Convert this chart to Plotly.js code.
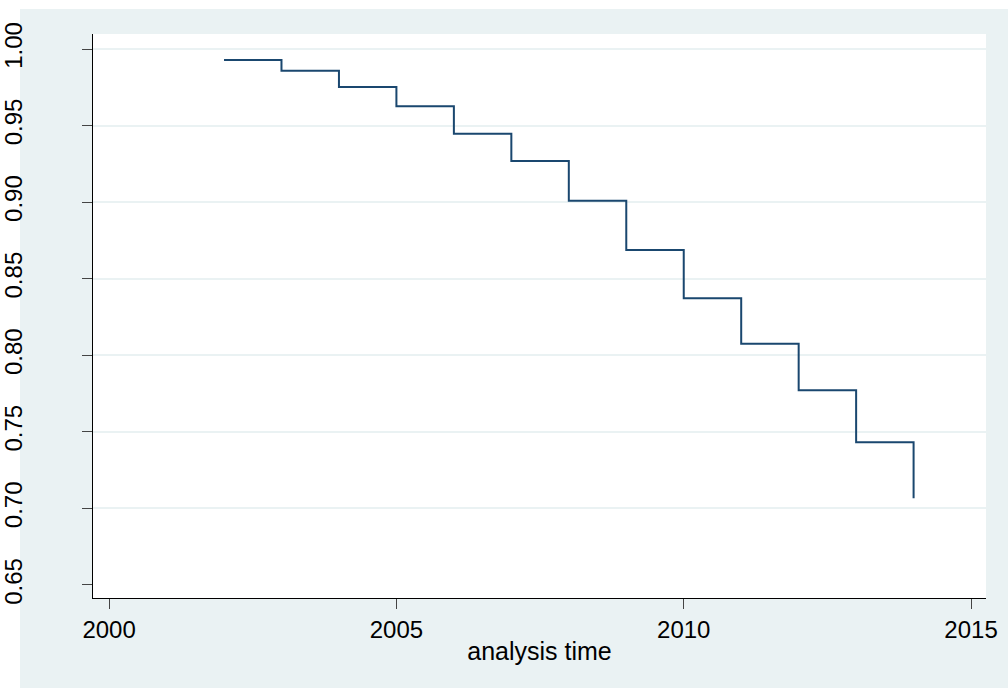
<!DOCTYPE html>
<html>
<head>
<meta charset="utf-8">
<script src="https://cdn.plot.ly/plotly-3.0.1.min.js"></script>
<style>
  html, body { margin: 0; padding: 0; background: #ffffff; }
  #chart { width: 1008px; height: 688px; }
</style>
</head>
<body>
<div id="chart"></div>
<script>
// Kaplan-Meier survival estimate (step function)
const years = [2002, 2003, 2004, 2005, 2006, 2007, 2008, 2009, 2010, 2011, 2012, 2013, 2014];
const survival = [0.9928, 0.9858, 0.9752, 0.9626, 0.9447, 0.9269, 0.9009, 0.8687, 0.8372, 0.8076, 0.7771, 0.7432, 0.7066];

const xTickVals = [2000, 2005, 2010, 2015];
const yTickVals = [0.65, 0.70, 0.75, 0.80, 0.85, 0.90, 0.95, 1.00];
const yTickText = ['0.65', '0.70', '0.75', '0.80', '0.85', '0.90', '0.95', '1.00'];
const yGridVals = [0.70, 0.75, 0.80, 0.85, 0.90, 0.95, 1.00];

const xRange = [1999.72, 2015.26];
const yRange = [0.6415, 1.0098];

const bgColor = '#eaf2f3';
const lineColor = '#1a476f';
const fontFamily = 'Arial, "Liberation Sans", sans-serif';

const traces = [
  {
    x: years,
    y: survival,
    type: 'scatter',
    mode: 'lines',
    line: { shape: 'hv', color: lineColor, width: 2 },
    showlegend: false,
    hoverinfo: 'x+y'
  },
  {
    x: [],
    y: [],
    type: 'scatter',
    mode: 'lines',
    yaxis: 'y2',
    showlegend: false,
    hoverinfo: 'skip'
  }
];

const layout = {
  width: 1008,
  height: 688,
  paper_bgcolor: bgColor,
  plot_bgcolor: '#ffffff',
  margin: { l: 93, r: 22, t: 34, b: 90, pad: 0 },
  showlegend: false,
  font: { family: fontFamily, color: '#000000', size: 24 },
  xaxis: {
    range: xRange,
    tickmode: 'array',
    tickvals: xTickVals,
    ticks: 'outside',
    ticklen: 10,
    tickwidth: 1,
    tickcolor: '#444444',
    showline: true,
    linecolor: '#000000',
    linewidth: 1,
    showgrid: false,
    zeroline: false,
    tickfont: { family: fontFamily, size: 24, color: '#000000' },
    ticklabelstandoff: 0,
    title: { text: 'analysis time', font: { family: fontFamily, size: 25, color: '#000000' }, standoff: 0 }
  },
  yaxis: {
    range: yRange,
    tickmode: 'array',
    tickvals: yTickVals,
    ticktext: yTickText,
    tickangle: -90,
    ticks: 'outside',
    ticklen: 10,
    tickwidth: 1,
    tickcolor: '#444444',
    showline: true,
    linecolor: '#000000',
    linewidth: 1,
    showgrid: false,
    zeroline: false,
    tickfont: { family: fontFamily, size: 24, color: '#000000' },
    ticklabelstandoff: 50
  },
  yaxis2: {
    overlaying: 'y',
    side: 'left',
    range: yRange,
    tickmode: 'array',
    tickvals: yGridVals,
    showgrid: true,
    gridcolor: bgColor,
    gridwidth: 2,
    showticklabels: false,
    ticks: '',
    showline: false,
    zeroline: false
  },
  shapes: [
    { type: 'rect', xref: 'paper', yref: 'paper', layer: 'below',
      x0: -0.2, x1: -0.0817, y0: -0.3, y1: 1.2,
      fillcolor: '#ffffff', line: { width: 0 } },
    { type: 'rect', xref: 'paper', yref: 'paper', layer: 'below',
      x0: -0.2, x1: 1.2, y0: 1.0443, y1: 1.2,
      fillcolor: '#ffffff', line: { width: 0 } }
  ]
};

Plotly.newPlot('chart', traces, layout, { displayModeBar: false, staticPlot: true });
</script>
</body>
</html>
